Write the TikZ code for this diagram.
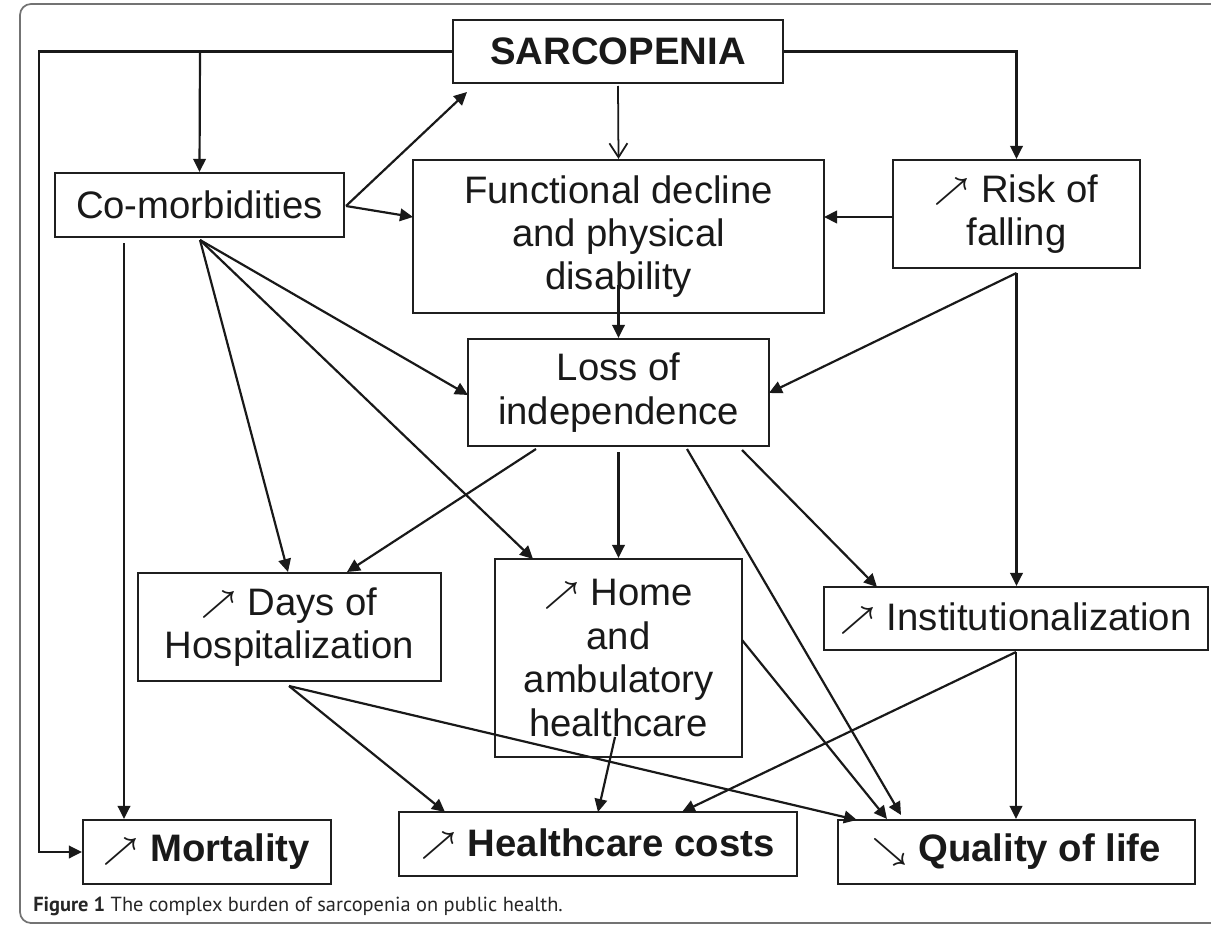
\documentclass[tikz,border=0pt]{standalone}
\usepackage{fontspec}
\setmainfont{Liberation Sans}
\newfontfamily\capfont{PT Sans}
\usetikzlibrary{arrows.meta}

% small diagonal arrows used inside the labels
\newcommand{\up}{\raisebox{1.5pt}{\fontsize{17pt}{24.7pt}\selectfont\boldmath$\nearrow$}\hspace{0.3em}}
\newcommand{\down}{\raisebox{1.5pt}{\fontsize{17pt}{24.7pt}\selectfont\boldmath$\searrow$}\hspace{0.3em}}

\begin{document}
\begin{tikzpicture}[x=0.02cm,y=-0.02cm,
  box/.style={draw=black!88, line width=1.25pt, inner sep=0pt, align=center,
    font=\fontsize{21.8pt}{24.7pt}\selectfont, text=black!90},
  boldbox/.style={box, font=\bfseries\fontsize{21.8pt}{24.7pt}\selectfont},
  link/.style={draw=black!90, line width=1.25pt,
    -{Triangle[length=0.26cm,width=0.25cm]}},
  openlink/.style={draw=black!90, line width=1pt,
    -{Straight Barb[length=0.28cm,width=0.36cm,line width=1pt]}}]

\useasboundingbox (0,0) rectangle (1211,926);

% outer figure frame
\draw[black!55, line width=1pt, rounded corners=0.22cm] (20,4) rectangle (1240,923);

% boxes
\node[boldbox, minimum width=330*0.02cm, minimum height=63*0.02cm] (sarc) at (618,51.5) {SARCOPENIA};
\node[box, minimum width=289*0.02cm, minimum height=64*0.02cm] (comorb) at (199.5,205) {Co-morbidities};
\node[box, minimum width=411*0.02cm, minimum height=153*0.02cm] (func) at (618.5,236.5) {Functional decline\\and physical\\disability};
\node[box, minimum width=247*0.02cm, minimum height=108*0.02cm] (risk) at (1016.5,214) {\up Risk of\\falling};
\node[box, minimum width=301*0.02cm, minimum height=107*0.02cm] (loss) at (618.5,392.5) {Loss of\\independence};
\node[box, minimum width=303*0.02cm, minimum height=108*0.02cm] (days) at (289.5,627) {\up Days of\\Hospitalization};
\node[box, minimum width=247*0.02cm, minimum height=198*0.02cm] (home) at (618.5,658) {\up Home\\and\\ambulatory\\healthcare};
\node[box, minimum width=384*0.02cm, minimum height=63*0.02cm] (inst) at (1016,618.5) {\up Institutionalization};
\node[boldbox, minimum width=248*0.02cm, minimum height=64*0.02cm] (mort) at (207,852) {\up Mortality};
\node[boldbox, minimum width=398*0.02cm, minimum height=64*0.02cm] (cost) at (598,844) {\up Healthcare costs};
\node[boldbox, minimum width=357*0.02cm, minimum height=64*0.02cm] (qual) at (1016.5,852) {\down Quality of life};

% attachment points
\coordinate (leftrail) at (39,51.5);
\coordinate (branch) at (200,51.5);
\coordinate (cbfan) at (200,240);
\coordinate (cbright) at (346,206);
\coordinate (sarcin) at (467,92);
\coordinate (funcin) at (413,217);
\coordinate (sarcout) at (618,86);
\coordinate (riskout) at (893,217);
\coordinate (funcright) at (824,217);
\coordinate (funcout) at (618.5,285);
\coordinate (cbdown) at (124,243);
\coordinate (lossleft) at (468,395);
\coordinate (daystopA) at (288,572);
\coordinate (daystopB) at (347,572);
\coordinate (hometop) at (533,559);
\coordinate (rbfan) at (1016.5,273);
\coordinate (lossright) at (769,393);
\coordinate (lossA) at (536,449);
\coordinate (lossB) at (618.5,452);
\coordinate (lossC) at (687,449);
\coordinate (lossD) at (742,450);
\coordinate (insttop) at (877,587);
\coordinate (daysout) at (289,686);
\coordinate (homein) at (615,737);
\coordinate (homeright) at (742,640);
\coordinate (instout) at (1016,652);
\coordinate (costA) at (445,812);
\coordinate (costB) at (598,812);
\coordinate (costC) at (682,812);
\coordinate (qualA) at (857,820);
\coordinate (qualB) at (887,819);
\coordinate (qualC) at (901,815);

% connectors from SARCOPENIA
\draw[link] (sarc.west) -- (leftrail) |- (mort.west);
\draw[link] (branch) -- (comorb.north);
\draw[link] (sarc.east) -| (risk.north);
\draw[openlink] (sarcout) -- (func.north);

% connectors from Co-morbidities
\draw[link] (cbright) -- (sarcin);
\draw[link] (cbright) -- (funcin);
\draw[link] (cbdown) -- (mort.north -| cbdown);
\draw[link] (cbfan) -- (lossleft);
\draw[link] (cbfan) -- (hometop);
\draw[link] (cbfan) -- (daystopA);

% connectors from Risk of falling and Functional decline
\draw[link] (riskout) -- (funcright);
\draw[link] (rbfan) -- (lossright);
\draw[link] (rbfan) -- (inst.north -| rbfan);
\draw[link] (funcout) -- (loss.north);

% connectors from Loss of independence
\draw[link] (lossA) -- (daystopB);
\draw[link] (lossB) -- (home.north);
\draw[link] (lossC) -- (qualC);
\draw[link] (lossD) -- (insttop);

% connectors into the outcomes
\draw[link] (daysout) -- (costA);
\draw[link] (daysout) -- (qualA);
\draw[link] (homein) -- (costB);
\draw[link] (homeright) -- (qualB);
\draw[link] (instout) -- (costC);
\draw[link] (instout) -- (qual.north -| instout);

% caption
\node[anchor=base west, inner sep=0pt, text=black!85,
  font=\capfont\fontsize{11.6pt}{12pt}\selectfont] (caption) at (33,911)
  {\textbf{Figure 1} The complex burden of sarcopenia on public health.};
\end{tikzpicture}
\end{document}
